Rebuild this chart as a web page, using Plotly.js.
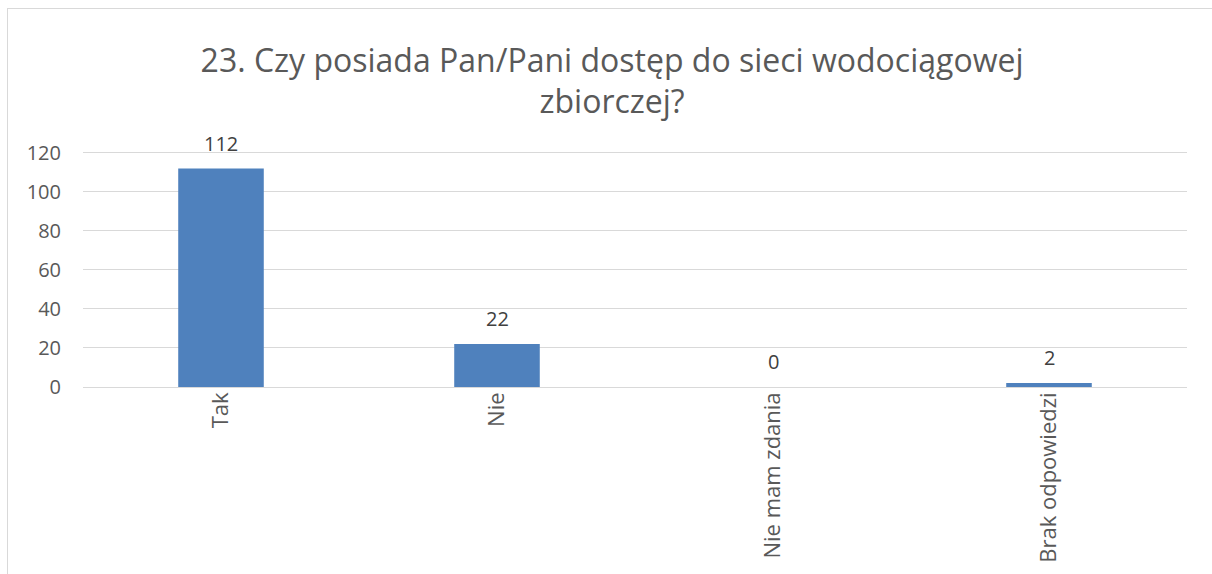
<!DOCTYPE html>
<html>
<head>
<meta charset="utf-8">
<script src="https://cdn.plot.ly/plotly-3.0.1.min.js"></script>
<style>
  html, body { margin: 0; padding: 0; background: #fff; }
  #wrap { position: relative; width: 1212px; height: 574px; overflow: hidden; }
  #chart { width: 1212px; height: 574px; }
  #frame { position: absolute; left: 7px; top: 8px; width: 1300px; height: 700px;
           border-left: 1px solid #d9d9d9; border-top: 1px solid #d9d9d9; pointer-events: none; }
</style>
</head>
<body>
<div id="wrap">
  <div id="chart"></div>
  <div id="frame"></div>
</div>
<script>
const chartTitle = "23. Czy posiada Pan/Pani dostęp do sieci wodociągowej<br>zbiorczej?";
const categories = ["Tak", "Nie", "Nie mam zdania", "Brak odpowiedzi"];
const values = [112, 22, 0, 2];
const yTicks = [0, 20, 40, 60, 80, 100, 120];

const FONT = "'Open Sans', 'Noto Sans', sans-serif";

const trace = {
  type: "bar",
  x: categories,
  y: values,
  marker: { color: "#4f81bd" },
  hoverinfo: "x+y"
};

const labels = categories.map((c, i) => ({
  x: c,
  y: values[i],
  xref: "x",
  yref: "y",
  text: String(values[i]),
  showarrow: false,
  yanchor: "bottom",
  yshift: 10,
  font: { family: FONT, size: 20, color: "#404040" }
}));

const layout = {
  width: 1212,
  height: 574,
  paper_bgcolor: "rgba(0,0,0,0)",
  plot_bgcolor: "#ffffff",
  margin: { l: 83, r: 25, t: 151, b: 187 },
  bargap: 0.69,
  showlegend: false,
  annotations: labels,
  title: {
    text: chartTitle,
    font: { family: FONT, size: 32, color: "#595959" },
    x: 0.505,
    xanchor: "center",
    y: 0.875,
    yanchor: "middle"
  },
  xaxis: {
    type: "category",
    tickangle: -90,
    tickfont: { family: FONT, size: 22, color: "#595959" },
    showgrid: false,
    showline: false,
    ticks: "",
    zeroline: false
  },
  yaxis: {
    range: [0, 121],
    tickvals: yTicks,
    ticktext: yTicks.map(String),
    tickfont: { family: FONT, size: 20, color: "#595959" },
    showgrid: true,
    gridcolor: "#d9d9d9",
    gridwidth: 1,
    zeroline: true,
    zerolinecolor: "#d9d9d9",
    zerolinewidth: 1,
    showline: false,
    ticks: "",
    ticklabelstandoff: 21
  }
};

Plotly.newPlot("chart", [trace], layout, { displayModeBar: false, staticPlot: true });
</script>
</body>
</html>
